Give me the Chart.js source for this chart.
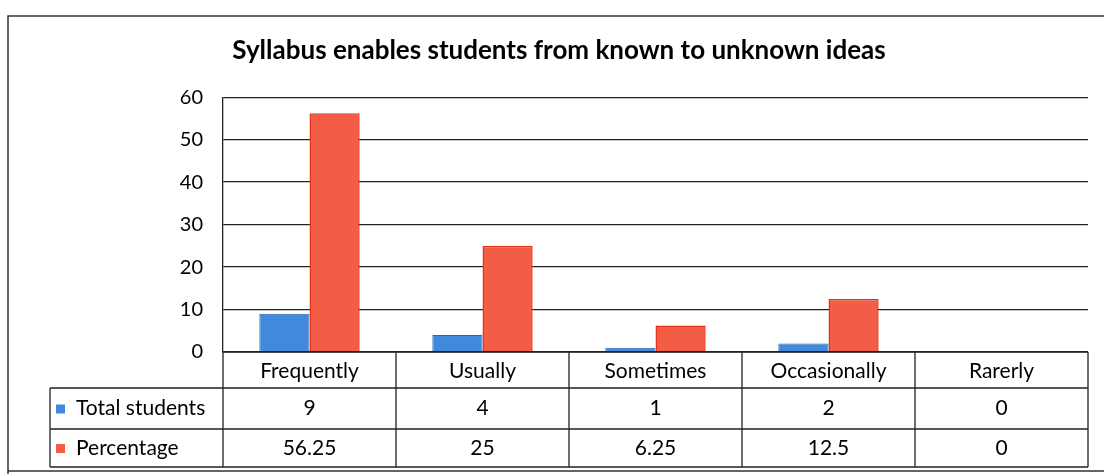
<!DOCTYPE html>
<html>
<head>
<meta charset="utf-8">
<script src="https://cdn.jsdelivr.net/npm/chart.js@4/dist/chart.umd.min.js"></script>
<style>
  html, body { margin: 0; padding: 0; background: #fff; }
  #wrap { width: 1104px; height: 474px; }
</style>
</head>
<body>
<div id="wrap"><canvas id="myGraph" width="1104" height="474"></canvas></div>
<script>
const chartTitle = 'Syllabus enables students from known to unknown ideas'
const categories = ['Frequently', 'Usually', 'Sometimes', 'Occasionally', 'Rarerly']
const totalStudents = [9, 4, 1, 2, 0]
const percentage = [56.25, 25, 6.25, 12.5, 0]
const tableLabels = ['9', '4', '1', '2', '0']
const tablePercent = ['56.25', '25', '6.25', '12.5', '0']

const FONT = 'Lato, "Open Sans", sans-serif'
const blue = '#4189dc'
const blueEdge = '#2a66b8'
const red = '#f35d45'
const redEdge = '#e6331c'

// draws the outer frame and the data table under the plot
const dataTable = {
  id: 'dataTable',
  beforeDraw(chart) {
    const ctx = chart.ctx
    ctx.save()
    ctx.strokeStyle = '#333'
    ctx.lineWidth = 1.5
    ctx.beginPath()
    ctx.moveTo(8, 474)
    ctx.lineTo(8, 16)
    ctx.lineTo(1104, 16)
    ctx.moveTo(8, 471)
    ctx.lineTo(1104, 471)
    ctx.stroke()
    ctx.restore()
  },
  afterDraw(chart) {
    const ctx = chart.ctx
    const area = chart.chartArea
    const x = chart.scales.x
    const top = area.bottom
    const rows = [top, top + 36, top + 77, top + 115]
    const legendLeft = 50
    const step = (area.right - area.left) / categories.length

    ctx.save()
    ctx.strokeStyle = '#222'
    ctx.lineWidth = 1.3
    ctx.beginPath()
    // horizontal lines
    ctx.moveTo(area.left, rows[0]); ctx.lineTo(area.right, rows[0])
    for (let r = 1; r < rows.length; r++) {
      ctx.moveTo(legendLeft, rows[r]); ctx.lineTo(area.right, rows[r])
    }
    // vertical lines
    for (let i = 0; i <= categories.length; i++) {
      const px = area.left + i * step
      ctx.moveTo(px, rows[0]); ctx.lineTo(px, rows[3])
    }
    ctx.moveTo(legendLeft, rows[1]); ctx.lineTo(legendLeft, rows[3])
    ctx.stroke()

    ctx.fillStyle = '#000'
    ctx.font = '21px ' + FONT
    ctx.textAlign = 'center'
    ctx.textBaseline = 'middle'
    categories.forEach((c, i) => {
      const cx = x.getPixelForValue(i)
      ctx.fillText(c, cx, (rows[0] + rows[1]) / 2 + 1)
      ctx.fillText(tableLabels[i], cx, (rows[1] + rows[2]) / 2)
      ctx.fillText(tablePercent[i], cx, (rows[2] + rows[3]) / 2)
    })

    // legend keys
    const keys = [
      { label: 'Total students', color: blue, y: (rows[1] + rows[2]) / 2 },
      { label: 'Percentage', color: red, y: (rows[2] + rows[3]) / 2 }
    ]
    ctx.textAlign = 'left'
    keys.forEach((k) => {
      ctx.fillStyle = k.color
      ctx.fillRect(56, k.y - 4, 9, 9)
      ctx.fillStyle = '#000'
      ctx.fillText(k.label, 76, k.y)
    })
    ctx.restore()
  }
}

const ctx = document.getElementById('myGraph').getContext('2d')
new Chart(ctx, {
  type: 'bar',
  data: {
    labels: categories,
    datasets: [
      {
        label: 'Total students',
        data: totalStudents,
        backgroundColor: blue,
        borderColor: blueEdge,
        borderWidth: 1,
        categoryPercentage: 0.58,
        barPercentage: 1
      },
      {
        label: 'Percentage',
        data: percentage,
        backgroundColor: red,
        borderColor: redEdge,
        borderWidth: 1.5,
        categoryPercentage: 0.58,
        barPercentage: 1
      }
    ]
  },
  options: {
    responsive: false,
    animation: false,
    layout: { padding: { left: 30, right: 16, top: 0, bottom: 0 } },
    plugins: {
      legend: { display: false },
      tooltip: { enabled: false },
      title: {
        display: true,
        text: chartTitle,
        color: '#000',
        font: { family: FONT, size: 26, weight: 'bold' },
        padding: { top: 35, bottom: 31 }
      }
    },
    scales: {
      x: {
        ticks: { display: false },
        grid: { display: false },
        border: { display: false },
        afterFit(scale) { scale.height = 122 }
      },
      y: {
        min: 0,
        max: 60,
        ticks: {
          stepSize: 10,
          padding: 20,
          color: '#000',
          font: { family: FONT, size: 20 }
        },
        grid: { color: '#222', lineWidth: 1.3, drawTicks: false },
        border: { display: true, color: '#222', width: 1.3 },
        afterFit(scale) { scale.width = 193 }
      }
    }
  },
  plugins: [dataTable]
})
</script>
</body>
</html>
